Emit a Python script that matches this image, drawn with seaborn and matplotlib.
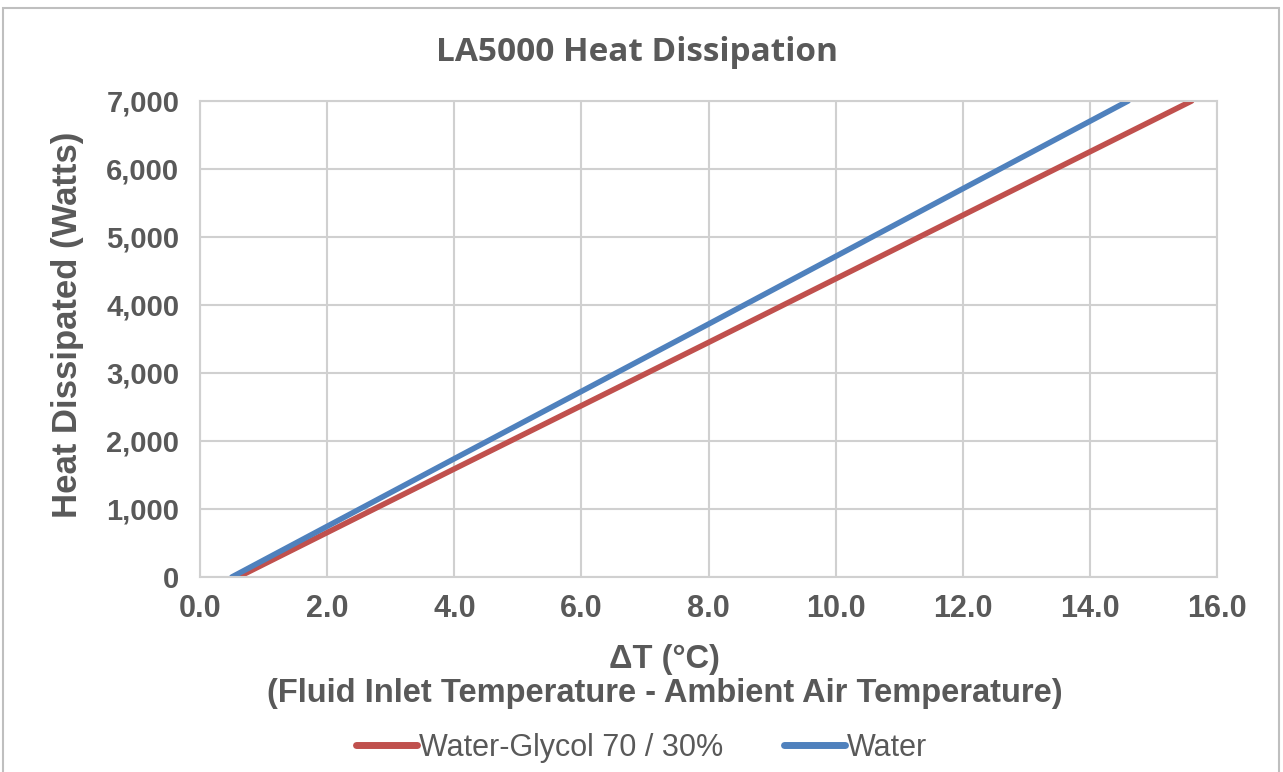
import numpy as np
import pandas as pd
import matplotlib.pyplot as plt
import matplotlib.patches as patches
import seaborn as sns
from matplotlib.ticker import FuncFormatter, MultipleLocator

# values
glycol_dt = [0.6, 4.0, 8.0, 12.0, 15.6]
glycol_watts = [0, 1590, 3450, 5320, 7000]
water_dt = [0.5, 4.0, 8.0, 12.0, 14.6]
water_watts = [0, 1740, 3720, 5710, 7000]
series_names = ["Water-Glycol 70 / 30%", "Water"]

data = pd.concat([
    pd.DataFrame({"dt": glycol_dt, "watts": glycol_watts, "fluid": series_names[0]}),
    pd.DataFrame({"dt": water_dt, "watts": water_watts, "fluid": series_names[1]}),
])

sns.set_style("white")
plt.rcParams['font.family'] = ['Liberation Sans', 'DejaVu Sans']
text_color = "#595959"
grid_color = "#D0D0D0"

fig = plt.figure(figsize=(12.83, 7.72), dpi=100)
ax = fig.add_axes([0.156, 0.2526, 0.7926, 0.6166])

sns.lineplot(data=data, x="dt", y="watts", hue="fluid", palette=["#C0504D", "#4F81BD"],
             linewidth=4, ax=ax, sort=False, estimator=None)

ax.set_xlim(0, 16)
ax.set_ylim(0, 7000)
ax.xaxis.set_major_locator(MultipleLocator(2))
ax.yaxis.set_major_locator(MultipleLocator(1000))
ax.xaxis.set_major_formatter(FuncFormatter(lambda v, p: f"{v:.1f}"))
ax.yaxis.set_major_formatter(FuncFormatter(lambda v, p: f"{v:,.0f}"))
ax.grid(True, color=grid_color, linewidth=1.5)
ax.set_axisbelow(True)
for s in ax.spines.values():
    s.set_color(grid_color)
    s.set_linewidth(1.5)
ax.tick_params(length=0, labelsize=22, labelcolor=text_color)
ax.tick_params(axis="x", pad=12)
ax.tick_params(axis="y", labelsize=21, pad=15)
for lab in ax.get_xticklabels() + ax.get_yticklabels():
    lab.set_fontweight("bold")

# chart title is centred on the whole chart, not on the plot area
fig.text(0.4965, 0.932, "LA5000 Heat Dissipation", ha="center", va="center", fontsize=24,
         fontweight="bold", color=text_color, family=["Open Sans", "DejaVu Sans"])
ax.set_xlabel("\u0394T (\u00b0C)\n(Fluid Inlet Temperature - Ambient Air Temperature)",
              fontsize=23.5, fontweight="bold", color=text_color, labelpad=15, linespacing=1.12)
ax.xaxis.label.set_x(0.457)
ax.set_ylabel("Heat Dissipated (Watts)", fontsize=25, fontweight="bold", color=text_color, labelpad=16)
ax.yaxis.label.set_y(0.53)

ax.get_legend().remove()
handles, labels = ax.get_legend_handles_labels()
leg = fig.legend(handles, labels, loc="center", bbox_to_anchor=(0.5, 0.031), ncol=2, frameon=False,
                 handlelength=2.0, handletextpad=0.05, columnspacing=2.0,
                 prop={"family": ["Liberation Sans", "DejaVu Sans"], "size": 22})
for t in leg.get_texts():
    t.set_color(text_color)
for h in leg.get_lines():
    h.set_linewidth(5)

# outer chart frame
fig.patches.append(patches.Rectangle((0.002, -0.01), 0.995, 1.0, transform=fig.transFigure,
                                     fill=False, edgecolor="#BFBFBF", linewidth=1.5))

fig.savefig("out.png", dpi=100)
